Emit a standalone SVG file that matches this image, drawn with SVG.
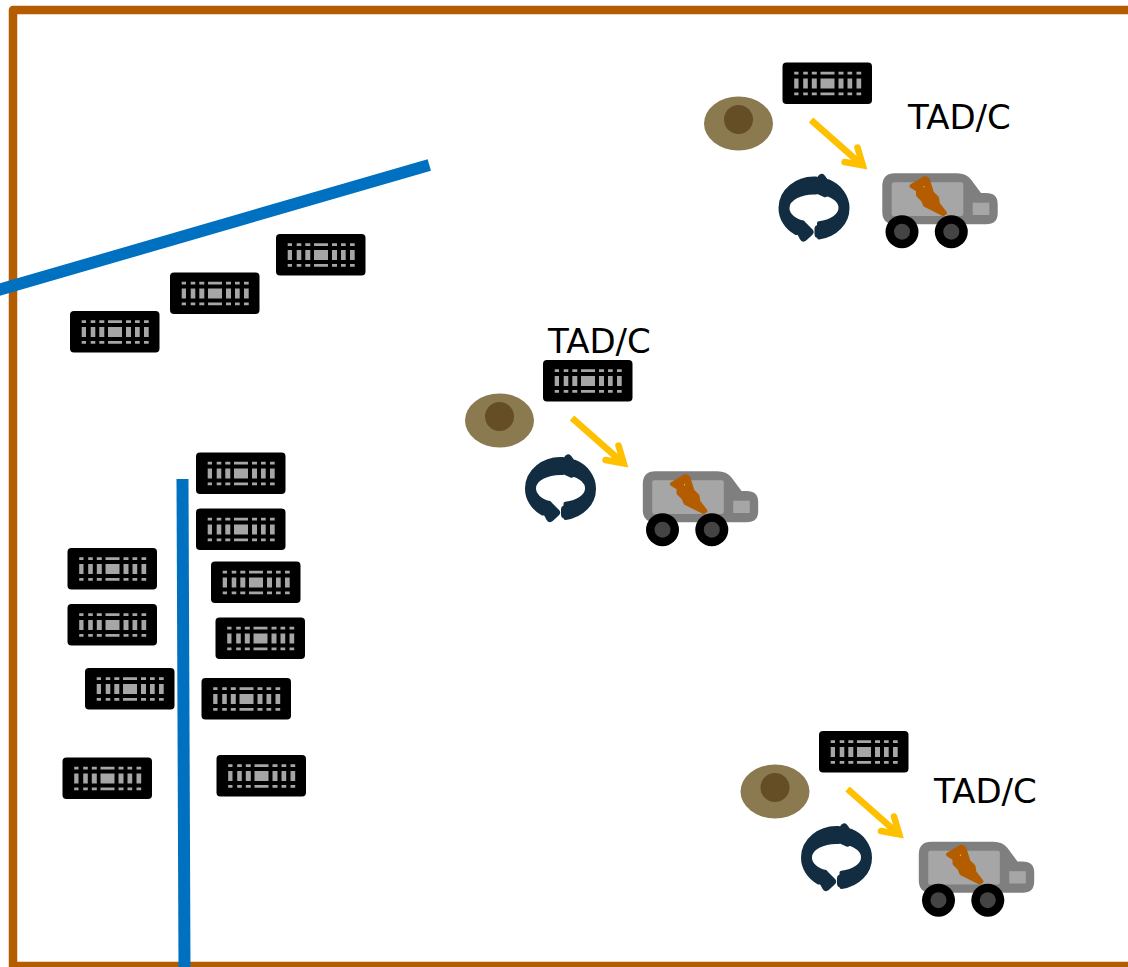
<svg xmlns="http://www.w3.org/2000/svg" width="1128" height="967" viewBox="0 0 1128 967">
<style>
.lbl{font-family:"DejaVu Sans",sans-serif;font-size:34px;fill:#000}
.border{fill:none;stroke:#b35c00;stroke-width:8.5;stroke-linejoin:round}
.wire{fill:none;stroke:#0070c0;stroke-width:12}
.arrow{fill:none;stroke:#ffc000;stroke-width:6.5}
.cyc{fill:#122d42;stroke:#122d42;stroke-width:4;stroke-linejoin:round;stroke-linecap:round}
.blob{fill:#122d42;stroke:#122d42;stroke-width:8;stroke-linejoin:round}
</style>
<defs>
<g id="chip">
<rect x="0" y="0" width="89.5" height="41.5" rx="4" fill="#000"/>
<path fill="#a6a6a6" d="M11.700 9.300h4.300v2.700h-4.300zM20.700 9.300h4.600v2.700h-4.600zM29.300 9.300h5v2.700h-5zM38 9.300h14v2.700h-14zM56 9.300h5v2.700h-5zM65 9.300h4.700v2.700h-4.700zM74 9.300h4.700v2.700h-4.700zM11.700 16h4.300v10h-4.300zM20.700 16h4.600v10h-4.600zM29.300 16h5v10h-5zM38 16h14v10h-14zM56 16h5v10h-5zM65 16h4.700v10h-4.700zM74 16h4.700v10h-4.700zM11.700 30h4.300v2.700h-4.300zM20.700 30h4.600v2.700h-4.600zM29.300 30h5v2.700h-5zM38 30h14v2.700h-14zM56 30h5v2.700h-5zM65 30h4.700v2.700h-4.700zM74 30h4.700v2.700h-4.700z"/>
</g>
<g id="eye">
<ellipse cx="0" cy="0" rx="34.500" ry="27" fill="#8b7a4f"/>
<circle cx="0" cy="-4" r="14.500" fill="#654d26"/>
</g>
<g id="van">
<path d="M895 173.300H957Q966 173.300 971 179.500L981 193H986Q997.700 193 997.700 204V213Q997.700 224.300 986 224.300H895Q882.300 224.300 882.300 212V186Q882.300 173.300 895 173.300Z" fill="#7f7f7f"/>
<rect x="891.700" y="182.300" width="71.600" height="33.700" rx="2" fill="#a6a6a6"/>
<rect x="972.700" y="202.700" width="16.600" height="12.300" fill="#a6a6a6"/>
<circle cx="902" cy="231.700" r="16.500" fill="#000"/>
<circle cx="902" cy="231.700" r="8" fill="#444"/>
<circle cx="951.300" cy="231.700" r="16.500" fill="#000"/>
<circle cx="951.300" cy="231.700" r="8" fill="#444"/>
<path d="M911.500 186L925 178L928 180L932 193L937 198L938 204L945 213L943 214L925 205L923 200L918 195L918 190Z" fill="#b35c00" stroke="#b35c00" stroke-width="4" stroke-linejoin="round"/>
<circle cx="924" cy="186.700" r="0.700" fill="#ffc000"/>
</g>
<g id="flow" class="arrow">
<path d="M811 120L862 165"/>
<path d="M857.500 147.500L862.800 165.300L844.500 162" stroke-linecap="round"/>
</g>
<g id="cycle">
<path class="cyc" d="M2 -29.500A33.500 29.500 0 0 0 -33.500 0A33.500 29.500 0 0 0 -18 25L-8 24L-11 14.500A26.500 15.500 0 0 1 -26.500 0A26.500 15.500 0 0 1 2 -15.500Z"/>
<path class="blob" d="M-10.500 29.500L-4.500 24L-11 17.500L-15 21Z"/>
<path class="cyc" d="M5 29.500A33.500 29.500 0 0 0 33.500 0A33.500 29.500 0 0 0 14 -26.800L8 -25L11 -14.500A26.500 15.500 0 0 1 26.500 0A26.500 15.500 0 0 1 5 15.200Z"/>
<path class="blob" d="M7.700 -30L3.500 -25L4.500 -18L11 -15L12 -24Z"/>
<path class="blob" d="M4.500 26L4.500 21Z"/>
</g>
</defs>
<g id="frame"><rect class="border" x="13" y="10" width="1300" height="956"/></g>
<g id="connectors">
<path class="wire" d="M-5 291L429.300 165"/>
<path class="wire" d="M182.500 479L184.500 967"/>
<use href="#flow"/>
<use href="#flow" transform="translate(-239 298)"/>
<use href="#flow" transform="translate(36.500 669)"/>
</g>
<g id="chip-1"><use href="#chip" x="782.500" y="62.500"/></g>
<g id="chip-2"><use href="#chip" x="276" y="234"/></g>
<g id="chip-3"><use href="#chip" x="170" y="272.500"/></g>
<g id="chip-4"><use href="#chip" x="70" y="311"/></g>
<g id="chip-5"><use href="#chip" x="196" y="452.500"/></g>
<g id="chip-6"><use href="#chip" x="196" y="508.500"/></g>
<g id="chip-7"><use href="#chip" x="211" y="561.500"/></g>
<g id="chip-8"><use href="#chip" x="215.500" y="617.500"/></g>
<g id="chip-9"><use href="#chip" x="201.500" y="678"/></g>
<g id="chip-10"><use href="#chip" x="216.500" y="755"/></g>
<g id="chip-11"><use href="#chip" x="67.500" y="548"/></g>
<g id="chip-12"><use href="#chip" x="67.500" y="604"/></g>
<g id="chip-13"><use href="#chip" x="85" y="668"/></g>
<g id="chip-14"><use href="#chip" x="62.500" y="757.500"/></g>
<g id="chip-15"><use href="#chip" x="543" y="360"/></g>
<g id="chip-16"><use href="#chip" x="819" y="731"/></g>
<g id="eye-1"><use href="#eye" x="738.500" y="123.500"/></g>
<g id="eye-2"><use href="#eye" x="499.500" y="420.500"/></g>
<g id="eye-3"><use href="#eye" x="775" y="791.500"/></g>
<g id="cycle-1"><use href="#cycle" x="814" y="208"/></g>
<g id="cycle-2"><use href="#cycle" x="560.500" y="488.500"/></g>
<g id="cycle-3"><use href="#cycle" x="836.500" y="857.500"/></g>
<g id="van-1"><use href="#van"/></g>
<g id="van-2"><use href="#van" x="-239.500" y="298"/></g>
<g id="van-3"><use href="#van" x="36.500" y="668.500"/></g>
<g id="label-1"><text class="lbl" x="908" y="129">TAD/C</text></g>
<g id="label-2"><text class="lbl" x="548" y="353">TAD/C</text></g>
<g id="label-3"><text class="lbl" x="934" y="803">TAD/C</text></g>
</svg>
